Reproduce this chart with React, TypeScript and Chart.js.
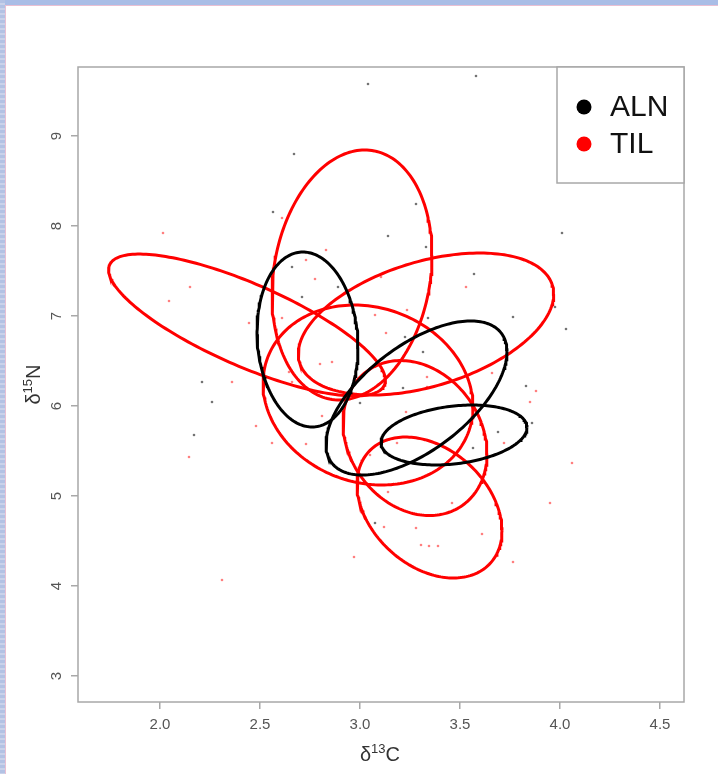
import React, { useEffect, useRef } from "react";
import { Chart, registerables } from "chart.js";

Chart.register(...registerables);

// ---- groups ----
const GROUPS = ["ALN", "TIL"];
const GROUP_COLORS = ["#000000", "#ff0000"];
const POINT_COLORS = ["rgba(0,0,0,0.55)", "rgba(255,0,0,0.5)"];

// ---- axes ----
const X_RANGE = [1.59, 4.62];
const Y_RANGE = [2.711, 9.767];
const X_TICKS = [2.0, 2.5, 3.0, 3.5, 4.0, 4.5];
const X_TICK_LABELS = ["2.0", "2.5", "3.0", "3.5", "4.0", "4.5"];
const Y_TICKS = [3, 4, 5, 6, 7, 8, 9];
const Y_TICK_LABELS = ["3", "4", "5", "6", "7", "8", "9"];

// ---- raw points (δ13C, δ15N) ----
const ALN_X = [3.04, 3.58, 2.67, 2.565, 3.14, 3.28, 3.33, 4.01, 2.66, 2.89, 2.71, 3.57, 3.975, 3.765, 4.03, 3.34, 3.315, 3.225, 3.215, 3.83, 3.0, 3.86, 3.69, 3.565, 2.21, 2.26, 2.17, 3.075];
const ALN_Y = [9.578, 9.667, 8.8, 8.156, 7.889, 8.244, 7.767, 7.922, 7.544, 7.322, 7.211, 7.467, 7.1, 6.989, 6.856, 6.978, 6.6, 6.767, 6.2, 6.222, 6.033, 5.811, 5.711, 5.533, 6.267, 6.044, 5.678, 4.7];

const TIL_X = [2.61, 2.015, 2.83, 2.73, 2.775, 2.15, 2.045, 2.61, 2.445, 3.075, 3.13, 3.105, 3.235, 3.53, 2.8, 2.86, 2.645, 2.36, 2.66, 2.81, 2.48, 3.335, 3.335, 3.66, 3.88, 3.85, 3.23, 2.56, 2.73, 3.185, 3.72, 3.05, 4.06, 2.145, 3.14, 3.46, 3.95, 3.12, 3.28, 3.61, 3.305, 3.345, 3.39, 2.97, 3.765, 2.31];
const TIL_Y = [8.089, 7.922, 7.733, 7.622, 7.411, 7.322, 7.167, 6.978, 6.922, 7.011, 6.811, 7.433, 7.067, 7.322, 6.467, 6.489, 6.378, 6.267, 6.267, 5.889, 5.778, 6.322, 6.211, 6.367, 6.167, 6.044, 5.933, 5.589, 5.578, 5.589, 5.589, 5.456, 5.367, 5.433, 5.044, 4.922, 4.922, 4.656, 4.644, 4.578, 4.456, 4.444, 4.444, 4.322, 4.267, 4.067];

// ---- ellipses: centre, half-width (x), half-height (y), correlation ----
const ALN_ELL_CX = [2.7375, 3.2825, 3.47];
const ALN_ELL_CY = [6.739, 6.089, 5.678];
const ALN_ELL_SX = [0.2525, 0.4525, 0.365];
const ALN_ELL_SY = [0.972, 0.856, 0.333];
const ALN_ELL_RHO = [-0.09, 0.6, 0.25];

const TIL_ELL_CX = [2.435, 2.96, 3.33, 3.04, 3.275, 3.3475];
const TIL_ELL_CY = [6.9, 7.456, 6.911, 6.122, 5.644, 4.872];
const TIL_ELL_SX = [0.692, 0.4, 0.6385, 0.525, 0.36, 0.3625];
const TIL_ELL_SY = [0.788, 1.389, 0.789, 1.0, 0.861, 0.783];
const TIL_ELL_RHO = [-0.778, 0.16, 0.42, -0.13, -0.2, -0.33];

function ellipsePath(cx: number, cy: number, sx: number, sy: number, rho: number) {
  const pts: { x: number; y: number }[] = [];
  const k = Math.sqrt(1 - rho * rho);
  const n = 200;
  for (let i = 0; i <= n; i++) {
    const t = (i / n) * Math.PI * 2;
    pts.push({
      x: cx + sx * Math.cos(t),
      y: cy + sy * (rho * Math.cos(t) + k * Math.sin(t)),
    });
  }
  return pts;
}

function zipPts(xs: number[], ys: number[]) {
  return xs.map((x, i) => ({ x, y: ys[i] }));
}

const FONT = "'Liberation Sans', Arial, Helvetica, sans-serif";

const framePlugin = {
  id: "frame",
  afterDatasetsDraw(chart: any) {
    const { ctx, chartArea: a } = chart;
    ctx.save();
    ctx.strokeStyle = "#a8a8a8";
    ctx.lineWidth = 1.5;
    ctx.strokeRect(a.left, a.top, a.right - a.left, a.bottom - a.top);
    ctx.restore();
  },
};

function drawSupTitle(ctx: any, base: string, sup: string, tail: string) {
  const big = `20px ${FONT}`;
  const small = `13px ${FONT}`;
  ctx.font = big;
  const w1 = ctx.measureText(base).width;
  const w3 = ctx.measureText(tail).width;
  ctx.font = small;
  const w2 = ctx.measureText(sup).width;
  const total = w1 + w2 + w3;
  let x = -total / 2;
  ctx.textBaseline = "alphabetic";
  ctx.textAlign = "left";
  ctx.font = big;
  ctx.fillText(base, x, 7);
  x += w1;
  ctx.font = small;
  ctx.fillText(sup, x, -1);
  x += w2;
  ctx.font = big;
  ctx.fillText(tail, x, 7);
}

const titlesPlugin = {
  id: "axisTitles",
  afterDraw(chart: any) {
    const { ctx, chartArea: a } = chart;
    ctx.save();
    ctx.fillStyle = "#333";
    ctx.translate((a.left + a.right) / 2 - 1, 754);
    drawSupTitle(ctx, "δ", "13", "C");
    ctx.restore();
    ctx.save();
    ctx.fillStyle = "#333";
    ctx.translate(33, (a.top + a.bottom) / 2);
    ctx.rotate(-Math.PI / 2);
    drawSupTitle(ctx, "δ", "15", "N");
    ctx.restore();
  },
};

const legendPlugin = {
  id: "rLegend",
  afterDraw(chart: any) {
    const { ctx, chartArea: a } = chart;
    const w = 127;
    const h = 116;
    const x0 = a.right - w;
    const y0 = a.top;
    ctx.save();
    ctx.fillStyle = "#ffffff";
    ctx.fillRect(x0, y0, w, h);
    ctx.strokeStyle = "#a8a8a8";
    ctx.lineWidth = 1.5;
    ctx.strokeRect(x0, y0, w, h);
    ctx.font = `30px ${FONT}`;
    ctx.textBaseline = "middle";
    ctx.textAlign = "left";
    GROUPS.forEach((g, i) => {
      const cy = y0 + 40 + i * 37;
      ctx.fillStyle = GROUP_COLORS[i];
      ctx.beginPath();
      ctx.arc(x0 + 27, cy, 7.5, 0, Math.PI * 2);
      ctx.fill();
      ctx.fillStyle = "#111";
      ctx.fillText(g, x0 + 53, cy + 1);
    });
    ctx.restore();
  },
};

export default function App() {
  const ref = useRef<HTMLCanvasElement | null>(null);

  useEffect(() => {
    if (!ref.current) return;
    const datasets: any[] = [];
    ALN_ELL_CX.forEach((cx, i) => {
      datasets.push({
        label: `${GROUPS[0]} ellipse ${i + 1}`,
        data: ellipsePath(cx, ALN_ELL_CY[i], ALN_ELL_SX[i], ALN_ELL_SY[i], ALN_ELL_RHO[i]),
        showLine: true,
        borderColor: GROUP_COLORS[0],
        borderWidth: 3,
        pointRadius: 0,
        fill: false,
        order: 0,
      });
    });
    TIL_ELL_CX.forEach((cx, i) => {
      datasets.push({
        label: `${GROUPS[1]} ellipse ${i + 1}`,
        data: ellipsePath(cx, TIL_ELL_CY[i], TIL_ELL_SX[i], TIL_ELL_SY[i], TIL_ELL_RHO[i]),
        showLine: true,
        borderColor: GROUP_COLORS[1],
        borderWidth: 3,
        pointRadius: 0,
        fill: false,
        order: 1,
      });
    });
    datasets.push({
      label: GROUPS[0],
      data: zipPts(ALN_X, ALN_Y),
      pointRadius: 1.3,
      pointBorderWidth: 0,
      backgroundColor: POINT_COLORS[0],
      borderColor: POINT_COLORS[0],
      order: 2,
    });
    datasets.push({
      label: GROUPS[1],
      data: zipPts(TIL_X, TIL_Y),
      pointRadius: 1.3,
      pointBorderWidth: 0,
      backgroundColor: POINT_COLORS[1],
      borderColor: POINT_COLORS[1],
      order: 2,
    });

    const chart = new Chart(ref.current, {
      type: "scatter",
      data: { datasets },
      options: {
        animation: false,
        responsive: false,
        events: [],
        layout: { padding: { left: 0, top: 67, right: 34, bottom: 0 } },
        plugins: { legend: { display: false }, tooltip: { enabled: false } },
        scales: {
          x: {
            type: "linear",
            min: X_RANGE[0],
            max: X_RANGE[1],
            afterBuildTicks: (s: any) => {
              s.ticks = X_TICKS.map((v) => ({ value: v }));
            },
            afterFit: (s: any) => {
              s.height = 72;
            },
            border: { display: false },
            grid: {
              drawOnChartArea: false,
              drawTicks: true,
              tickLength: 7,
              color: "#a8a8a8",
              lineWidth: 1.5,
            },
            ticks: {
              autoSkip: false,
              maxRotation: 0,
              minRotation: 0,
              padding: 7,
              color: "#555",
              font: { family: FONT, size: 15 },
              callback: (_v: any, i: number) => X_TICK_LABELS[i],
            },
          },
          y: {
            type: "linear",
            min: Y_RANGE[0],
            max: Y_RANGE[1],
            afterBuildTicks: (s: any) => {
              s.ticks = Y_TICKS.map((v) => ({ value: v }));
            },
            afterFit: (s: any) => {
              s.width = 78;
            },
            border: { display: false },
            grid: {
              drawOnChartArea: false,
              drawTicks: true,
              tickLength: 7,
              color: "#a8a8a8",
              lineWidth: 1.5,
            },
            ticks: {
              autoSkip: false,
              minRotation: 90,
              maxRotation: 90,
              crossAlign: "center",
              padding: 10,
              color: "#555",
              font: { family: FONT, size: 15 },
              callback: (_v: any, i: number) => Y_TICK_LABELS[i],
            },
          },
        },
      },
      plugins: [framePlugin, titlesPlugin, legendPlugin],
    });
    return () => chart.destroy();
  }, []);

  return (
    <div
      style={{
        position: "fixed",
        left: 0,
        top: 0,
        width: 718,
        height: 774,
        background: "#ffffff",
        overflow: "hidden",
      }}
    >
      <canvas ref={ref} width={718} height={774} style={{ position: "absolute", left: 0, top: 0, width: 718, height: 774 }} />
      <div style={{ position: "absolute", left: 0, top: 0, width: 718, height: 5, background: "#a9bde6" }} />
      <div style={{ position: "absolute", left: 5, top: 5, width: 713, height: 1, background: "#e9bfd2" }} />
      <div style={{ position: "absolute", left: 0, top: 0, width: 5, height: 774, background: "repeating-linear-gradient(180deg, #b3c2e4 0px, #b3c2e4 3px, #c9d2ea 3px, #c9d2ea 5px)" }} />
      <div style={{ position: "absolute", left: 5, top: 5, width: 1, height: 769, background: "#e9bfd2" }} />
    </div>
  );
}
